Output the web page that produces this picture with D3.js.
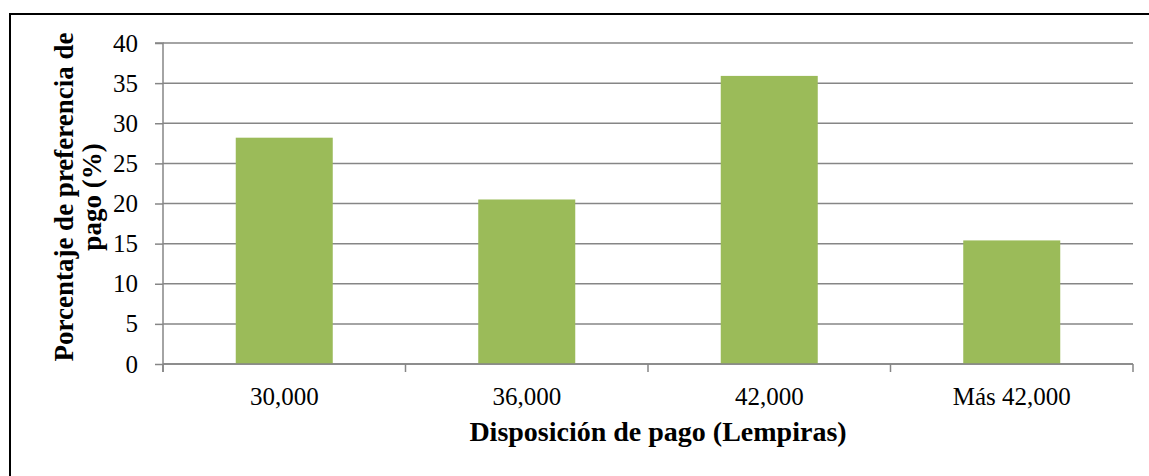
<!DOCTYPE html>
<html>
<head>
<meta charset="utf-8">
<script src="https://cdn.jsdelivr.net/npm/d3@7/dist/d3.min.js"></script>
<style>
  html, body { margin: 0; padding: 0; background: #fff; }
  svg { display: block; }
</style>
</head>
<body>
<svg id="chart" width="1149" height="476"></svg>
<script>
const categories = ["30,000", "36,000", "42,000", "Más 42,000"];
const values = [28.2, 20.5, 35.9, 15.4];
const yTicks = [0, 5, 10, 15, 20, 25, 30, 35, 40];
const yTitleLines = ["Porcentaje de preferencia de", "pago (%)"];
const xTitle = "Disposición de pago (Lempiras)";

(function () {
const svg = d3.select("#chart");
const W = 1149, H = 476;
const pLeft = 163, pRight = 1133, pTop = 43, pBottom = 364;
const font = "'Liberation Serif', 'Times New Roman', serif";

// outer border (only top and left visible in frame)
svg.append("rect")
  .attr("x", 10).attr("y", 14)
  .attr("width", W + 20).attr("height", H + 20)
  .attr("fill", "none").attr("stroke", "#000").attr("stroke-width", 2);

const x = d3.scaleBand().domain(categories).range([pLeft, pRight]).paddingInner(0.6).paddingOuter(0.3);
const y = d3.scaleLinear().domain([0, 40]).range([pBottom, pTop]);

// gridlines
svg.append("g").selectAll("line").data(yTicks).join("line")
  .attr("x1", pLeft).attr("x2", pRight)
  .attr("y1", d => y(d)).attr("y2", d => y(d))
  .attr("stroke", "#868686").attr("stroke-width", 1.5);

// bars
svg.append("g").selectAll("rect").data(values).join("rect")
  .attr("x", (d, i) => x(categories[i]))
  .attr("y", d => y(d))
  .attr("width", x.bandwidth())
  .attr("height", d => y(0) - y(d))
  .attr("fill", "#9BBB59");

// y axis
const yAxis = d3.axisLeft(y).tickValues(yTicks).tickSize(8).tickPadding(17).tickFormat(d3.format("d"));
const gy = svg.append("g").attr("transform", `translate(${pLeft},0)`).call(yAxis);
gy.select(".domain").attr("stroke", "#868686").attr("stroke-width", 1.5).attr("d", `M-8,${pTop}H0V${pBottom + 8}`);
gy.selectAll(".tick line").attr("stroke", "#868686").attr("stroke-width", 1.5);
gy.selectAll(".tick text").attr("font-family", font).attr("font-size", 25).attr("fill", "#000");

// x axis with boundary ticks
const xb = d3.scaleLinear().domain([0, categories.length]).range([pLeft, pRight]);
const bounds = d3.range(categories.length + 1);
const gx = svg.append("g");
gx.append("line").attr("x1", pLeft).attr("x2", pRight).attr("y1", pBottom).attr("y2", pBottom)
  .attr("stroke", "#868686").attr("stroke-width", 1.5);
gx.selectAll("line.tk").data(bounds).join("line").attr("class", "tk")
  .attr("x1", d => xb(d)).attr("x2", d => xb(d))
  .attr("y1", pBottom).attr("y2", pBottom + 8)
  .attr("stroke", "#868686").attr("stroke-width", 1.5);
gx.selectAll("text").data(categories).join("text")
  .attr("x", d => x(d) + x.bandwidth() / 2)
  .attr("y", 405)
  .attr("text-anchor", "middle")
  .attr("font-family", font).attr("font-size", 25).attr("fill", "#000")
  .text(d => d);

// x title
svg.append("text")
  .attr("x", 658).attr("y", 441)
  .attr("text-anchor", "middle")
  .attr("font-family", font).attr("font-size", 28).attr("font-weight", "bold")
  .text(xTitle);

// y title
const yt = svg.append("text")
  .attr("transform", "translate(0,197) rotate(-90)")
  .attr("text-anchor", "middle")
  .attr("font-family", font).attr("font-size", 27).attr("font-weight", "bold");
yt.selectAll("tspan").data(yTitleLines).join("tspan")
  .attr("x", 0).attr("y", (d, i) => 73 + i * 28)
  .text(d => d);
})();
</script>
</body>
</html>
